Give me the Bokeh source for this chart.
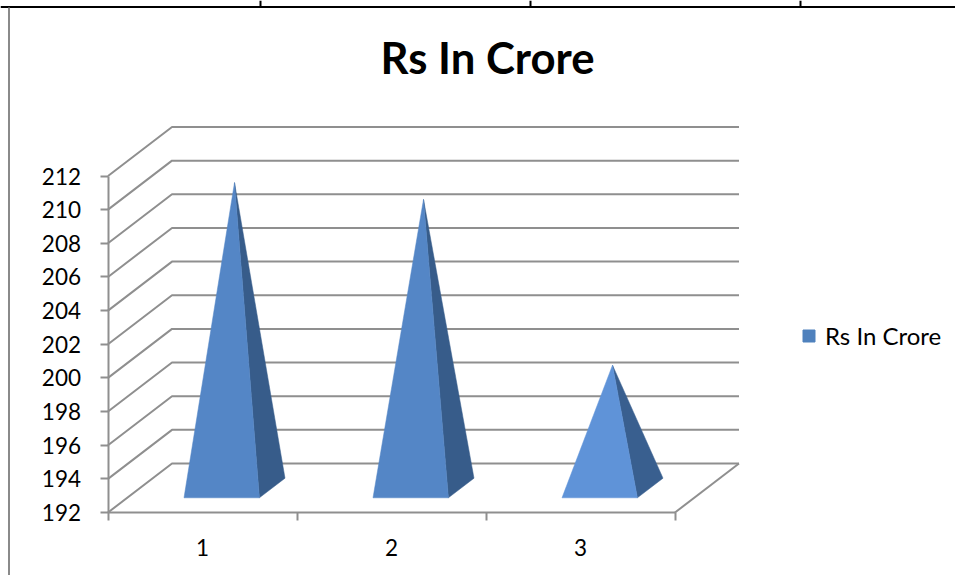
import math
from bokeh.embed import file_html
from bokeh.resources import INLINE
from bokeh.plotting import figure
from bokeh.models import LinearAxis, FixedTicker, Label, Legend, LegendItem, Range1d

# ---- data
categories = [1, 2, 3]
series_name = "Rs In Crore"
series_values = [210.15, 209.15, 199.3]
value_ticks = list(range(192, 213, 2))
title_text = "Rs In Crore"

# ---- styles
GRID = "#8f8f8f"
FRONT = ["#5486c6", "#5486c6", "#5f93d8"]
SIDE = ["#375c8a", "#375c8a", "#395f8f"]
SWATCH = "#4f81bd"
FONT = "Lato"

# ---- scales: pixels per data unit and the 3D depth offset
W, H = 955, 575
PX_CAT = 189.0
PX_VAL = 16.825
X0, Y0 = 107.5, 512.0          # pixel of (cat 0.5, value 192)
DEPTH_X = 64.0 / PX_CAT        # category units for full depth
DEPTH_Y = 49.0 / PX_VAL        # value units for full depth
HALF_W = 37.7 / PX_CAT         # half width of pyramid base
D_FRONT, D_BACK = 0.30, 0.70   # depth of pyramid base front/back

def px_x(px):
    return 0.5 + (px - X0) / PX_CAT

def px_y(py):
    return 192 + (Y0 - py) / PX_VAL

def proj(c, v, d):
    return c + d * DEPTH_X, v + d * DEPTH_Y

p = figure(width=W, height=H, output_backend="svg", toolbar_location=None,
           x_axis_type=None, y_axis_type=None,
           x_range=Range1d(px_x(0), px_x(W)), y_range=Range1d(px_y(H), px_y(0)),
           min_border=0, outline_line_color=None, background_fill_color="white",
           border_fill_color="white")
p.margin = (0, 0, 0, 0)
p.grid.visible = False

# ---- page chrome behind the chart
p.line([px_x(0), px_x(W)], [px_y(6.5)] * 2, line_color="black", line_width=2)
for tx in (260, 530, 800):
    p.line([px_x(tx)] * 2, [px_y(0), px_y(6)], line_color="black", line_width=2)
p.line([px_x(8.5)] * 2, [px_y(7), px_y(H)], line_color="#8a8a8a", line_width=2)

# ---- walls and floor
for v in value_ticks:
    xa, ya = proj(0.5, v, 0)
    xb, yb = proj(0.5, v, 1)
    xc, yc = proj(3.5, v, 1)
    p.line([xa, xb, xc], [ya, yb, yc], line_color=GRID, line_width=2)
xa, ya = proj(3.5, 192, 0)
xb, yb = proj(3.5, 192, 1)
p.line([xa, xb], [ya, yb], line_color=GRID, line_width=2)

# ---- pyramids
front_x, front_y, side_x, side_y = [], [], [], []
for c, v in zip(categories, series_values):
    ax, ay = proj(c, v, (D_FRONT + D_BACK) / 2)
    flx, fly = proj(c - HALF_W, 192, D_FRONT)
    frx, fry = proj(c + HALF_W, 192, D_FRONT)
    brx, bry = proj(c + HALF_W, 192, D_BACK)
    front_x.append([flx, frx, ax])
    front_y.append([fly, fry, ay])
    side_x.append([frx, brx, ax])
    side_y.append([fry, bry, ay])
p.patches(side_x, side_y, fill_color=SIDE, line_color=SIDE, line_width=0.5)
p.patches(front_x, front_y, fill_color=FRONT, line_color=FRONT, line_width=0.5)

# ---- axes
yax = LinearAxis(fixed_location=0.5, bounds=(192, 212), ticker=FixedTicker(ticks=value_ticks),
                 axis_line_color=GRID, axis_line_width=2,
                 major_tick_line_color=GRID, major_tick_line_width=2,
                 major_tick_in=0, major_tick_out=8, minor_tick_line_color=None,
                 major_label_text_font=FONT, major_label_text_font_size="22.5px",
                 major_label_text_color="black", major_label_standoff=19)
p.add_layout(yax, "left")
xax = LinearAxis(fixed_location=192, bounds=(0.5, 3.5),
                 ticker=FixedTicker(ticks=categories, minor_ticks=[0.5, 1.5, 2.5, 3.5]),
                 axis_line_color=GRID, axis_line_width=2,
                 major_tick_line_color=None, major_tick_in=0, major_tick_out=8,
                 minor_tick_line_color=GRID, minor_tick_line_width=2,
                 minor_tick_in=0, minor_tick_out=8,
                 major_label_text_font=FONT, major_label_text_font_size="22.5px",
                 major_label_text_color="black", major_label_standoff=18)
p.add_layout(xax, "below")

# ---- title
p.add_layout(Label(x=px_x(487), y=px_y(56), text=title_text, text_font=FONT,
                   text_font_size="43.7px", text_font_style="bold", text_color="black",
                   text_align="center", text_baseline="middle"))

# ---- legend
sw = p.quad(left=[math.nan], right=[math.nan], top=[math.nan], bottom=[math.nan],
            fill_color=SWATCH, line_color=SWATCH)
legend = Legend(items=[LegendItem(label=series_name, renderers=[sw])],
                location=(801, 575 - 350), orientation="vertical",
                border_line_color=None, background_fill_alpha=0,
                glyph_width=15, glyph_height=15, label_text_font=FONT,
                label_text_font_size="24px", label_text_color="black",
                padding=6, margin=0, spacing=0, label_standoff=9)
p.add_layout(legend)

open("out.html", "w").write(file_html(p, INLINE))
